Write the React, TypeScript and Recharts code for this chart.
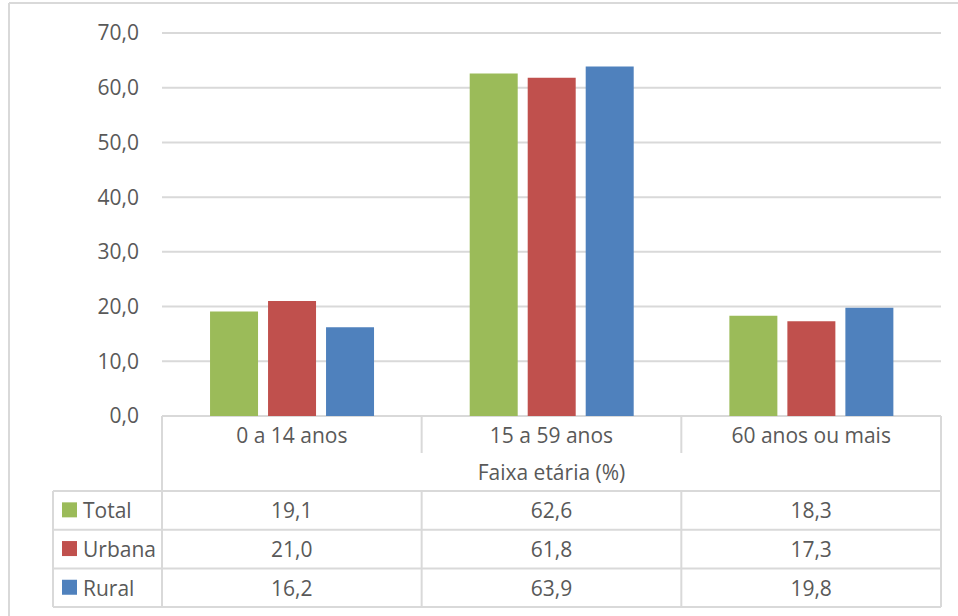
import React from "react";
import { BarChart, Bar, XAxis, YAxis, CartesianGrid } from "recharts";

const categories = ["0 a 14 anos", "15 a 59 anos", "60 anos ou mais"];
const seriesNames = ["Total", "Urbana", "Rural"];
const totalValues = [19.1, 62.6, 18.3];
const urbanaValues = [21.0, 61.8, 17.3];
const ruralValues = [16.2, 63.9, 19.8];
const yTicks = [0, 10, 20, 30, 40, 50, 60, 70];
const axisTitle = "Faixa etária (%)";

const seriesValues = [totalValues, urbanaValues, ruralValues];
const seriesKeys = ["total", "urbana", "rural"];
const colors = ["#9BBB59", "#C0504D", "#4F81BD"];

const data = categories.map((c, i) => ({
  name: c,
  total: totalValues[i],
  urbana: urbanaValues[i],
  rural: ruralValues[i],
}));

const W = 958;
const H = 616;
const PLOT_L = 162;
const PLOT_R = 941;
const PLOT_T = 33;
const PLOT_B = 416;
const Y_AXIS_W = 60;
const HEADER1_B = 453;
const HEADER2_B = 491;
const ROW_H = 38.7;
const LEGEND_L = 53;
const LINE = "#d9d9d9";
const TEXT = "#595959";
const FONT = "'Open Sans', 'Noto Sans', sans-serif";
const FS = 21;

const fmt = (v: number) => v.toFixed(1).replace(".", ",");

function Table() {
  const catW = (PLOT_R - PLOT_L) / categories.length;
  const rowsBottom = HEADER2_B + ROW_H * seriesNames.length;
  const lines: React.ReactNode[] = [];
  // outer chart border
  lines.push(<line key="ob-l" x1={9} y1={3} x2={9} y2={H} stroke={LINE} strokeWidth={2} />);
  lines.push(<line key="ob-t" x1={9} y1={3} x2={W} y2={3} stroke={LINE} strokeWidth={2} />);
  // table verticals
  lines.push(<line key="v-l" x1={PLOT_L} y1={PLOT_B} x2={PLOT_L} y2={rowsBottom} stroke={LINE} strokeWidth={2} />);
  lines.push(<line key="v-r" x1={PLOT_R} y1={PLOT_B} x2={PLOT_R} y2={rowsBottom} stroke={LINE} strokeWidth={2} />);
  lines.push(<line key="v-leg" x1={LEGEND_L} y1={HEADER2_B} x2={LEGEND_L} y2={rowsBottom} stroke={LINE} strokeWidth={2} />);
  for (let i = 1; i < categories.length; i++) {
    const x = PLOT_L + catW * i;
    lines.push(<line key={"vi1" + i} x1={x} y1={PLOT_B} x2={x} y2={HEADER1_B} stroke={LINE} strokeWidth={2} />);
    lines.push(<line key={"vi2" + i} x1={x} y1={HEADER2_B} x2={x} y2={rowsBottom} stroke={LINE} strokeWidth={2} />);
  }
  for (let r = 0; r <= seriesNames.length; r++) {
    const y = HEADER2_B + ROW_H * r;
    lines.push(<line key={"h" + r} x1={LEGEND_L} y1={y} x2={PLOT_R} y2={y} stroke={LINE} strokeWidth={2} />);
  }
  const texts: React.ReactNode[] = [];
  categories.forEach((c, i) => {
    texts.push(
      <text key={"c" + i} x={PLOT_L + catW * (i + 0.5)} y={(PLOT_B + HEADER1_B) / 2} textAnchor="middle" dominantBaseline="central">
        {c}
      </text>
    );
  });
  texts.push(
    <text key="title" x={(PLOT_L + PLOT_R) / 2} y={(HEADER1_B + HEADER2_B) / 2} textAnchor="middle" dominantBaseline="central">
      {axisTitle}
    </text>
  );
  seriesNames.forEach((s, r) => {
    const yc = HEADER2_B + ROW_H * (r + 0.5);
    texts.push(<rect key={"lg" + r} x={62} y={yc - 8} width={15} height={15} fill={colors[r]} />);
    texts.push(
      <text key={"ln" + r} x={83} y={yc} dominantBaseline="central">
        {s}
      </text>
    );
    seriesValues[r].forEach((v, i) => {
      texts.push(
        <text key={"d" + r + "-" + i} x={PLOT_L + catW * (i + 0.5)} y={yc} textAnchor="middle" dominantBaseline="central">
          {fmt(v)}
        </text>
      );
    });
  });
  return (
    <svg width={W} height={H} style={{ position: "absolute", left: 0, top: 0, pointerEvents: "none" }}>
      {lines}
      <g fill={TEXT} fontFamily={FONT} fontSize={FS}>
        {texts}
      </g>
    </svg>
  );
}

export default function App() {
  return (
    <div style={{ position: "absolute", left: 0, top: 0, width: W, height: H, background: "#fff", overflow: "hidden" }}>
      <BarChart
        width={W}
        height={H}
        data={data}
        margin={{ top: PLOT_T, right: W - PLOT_R, bottom: H - PLOT_B, left: PLOT_L - Y_AXIS_W }}
        barCategoryGap="18.5%"
        barGap={10}
      >
        <CartesianGrid vertical={false} stroke={LINE} strokeWidth={2} />
        <XAxis dataKey="name" hide />
        <YAxis
          width={Y_AXIS_W}
          domain={[0, 70]}
          ticks={yTicks}
          interval={0}
          tickFormatter={fmt}
          axisLine={false}
          tickLine={false}
          tickMargin={17}
          tick={{ fill: TEXT, fontSize: FS, fontFamily: FONT }}
        />
        {seriesKeys.map((k, i) => (
          <Bar key={k} dataKey={k} name={seriesNames[i]} fill={colors[i]} isAnimationActive={false} />
        ))}
      </BarChart>
      <Table />
    </div>
  );
}
